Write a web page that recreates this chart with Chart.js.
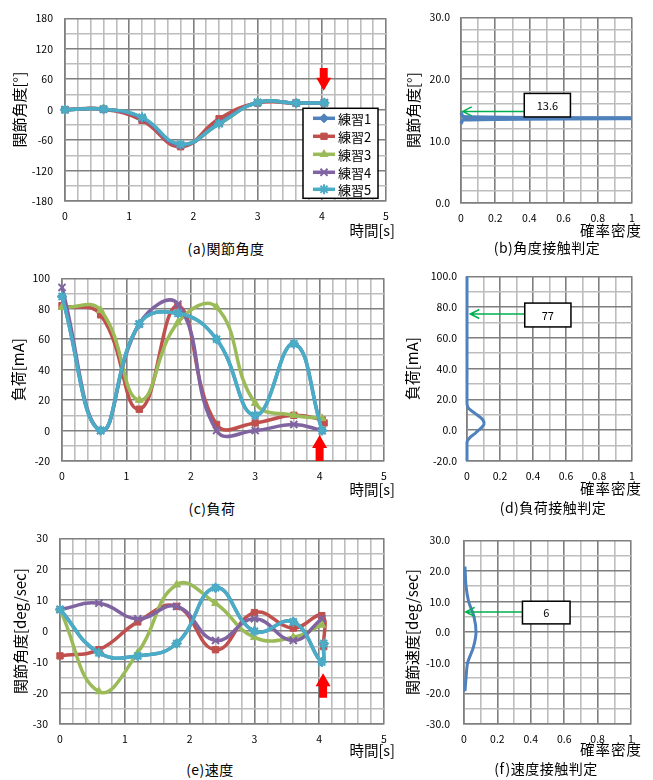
<!DOCTYPE html>
<html>
<head>
<meta charset="utf-8">
<script src="https://cdn.jsdelivr.net/npm/chart.js@4.4.1/dist/chart.umd.min.js"></script>
<style>
  body { margin: 0; background: #fff; width: 653px; height: 780px; position: relative; overflow: hidden;
         font-family: "Noto Sans CJK JP", "Noto Sans", sans-serif; }
  canvas { position: absolute; }
  .t { position: absolute; white-space: nowrap; color: #000; line-height: 1; }
  .c { transform: translate(-50%, -50%); font-size: 14px; letter-spacing: 0.5px; }
  .r { transform: translateY(-50%); font-size: 14.5px; }
</style>
</head>
<body>
<canvas id="chartA"></canvas>
<canvas id="chartB"></canvas>
<canvas id="chartC"></canvas>
<canvas id="chartD"></canvas>
<canvas id="chartE"></canvas>
<canvas id="chartF"></canvas>

<div class="t r" style="right:258px;top:230px">時間[s]</div>
<div class="t r" style="right:11px;top:230px;letter-spacing:1px">確率密度</div>
<div class="t r" style="right:258px;top:489px">時間[s]</div>
<div class="t r" style="right:11px;top:488px;letter-spacing:1px">確率密度</div>
<div class="t r" style="right:258px;top:750px">時間[s]</div>
<div class="t r" style="right:11px;top:749px;letter-spacing:1px">確率密度</div>

<div class="t c" style="left:226px;top:248px">(a)関節角度</div>
<div class="t c" style="left:547px;top:247px">(b)角度接触判定</div>
<div class="t c" style="left:212px;top:508px">(c)負荷</div>
<div class="t c" style="left:553px;top:507px">(d)負荷接触判定</div>
<div class="t c" style="left:210px;top:769px">(e)速度</div>
<div class="t c" style="left:546px;top:768px">(f)速度接触判定</div>

<script>
// sample times [s]; the last one only for the series that drop at the end
const times = [0, 0.6, 1.2, 1.8, 2.4, 3.0, 3.6, 4.04, 4.07];
const seriesNames = ["練習1", "練習2", "練習3", "練習4", "練習5"];
const seriesColors = ["#4F81BD", "#C0504D", "#9BBB59", "#8064A2", "#4BACC6"];
const seriesMarkers = ["rectRot", "rect", "triangle", "crossRot", "star"];

// (a) joint angle [deg]
const angle1 = [0, 1, -17, -70, -25, 14, 13, 13.6, null];
const angle2 = [0, 1, -21, -73, -18, 13, 13, 13.6, null];
const angle3 = [0, 1, -16, -69, -28, 14, 13, 13.6, null];
const angle4 = [0, 1, -17, -70, -27, 14, 13, 13.6, null];
const angle5 = [0, 1, -15, -68, -28, 14, 13, 13.6, null];

// (c) load [mA]
const load1 = [88, 0, 70, 77, 60, 10, 57, 0, null];
const load2 = [82, 76, 14, 82, 4, 5, 10, 7, 5];
const load3 = [81, 79, 20, 71, 81, 18, 10, 8, null];
const load4 = [94, 0, 70, 83, 0, 0, 4, 0, null];
const load5 = [88, 0, 70, 77, 60, 10, 57, 0, null];

// (e) joint velocity [deg/sec]
const speed1 = [7, -7, -8, -4, 14, 0, 3, -10, -4];
const speed2 = [-8, -6, 3, 8, -6, 6, 1, 5, -5];
const speed3 = [7, -19.5, -7, 15, 9, -2, -2, 2, null];
const speed4 = [7, 9, 4, 8, -3, 4, -3, 4, null];
const speed5 = [7, -7, -8, -4, 14, 0, 3, -10, -4];

// density curves (x = probability density, y = value)
const angleDensX = [0, 0.015, 1.2, 0.015, 0];
const angleDensY = [12.8, 13.45, 13.7, 13.95, 14.6];
const loadDensX = [0, 0, 0.008, 0.025, 0.05, 0.07, 0.09, 0.103, 0.1, 0.085, 0.06, 0.035, 0.012, 0.002, 0, 0];
const loadDensY = [-20, -8, -6, -4, -2, 0, 2, 4, 6, 8, 10, 12, 14, 16, 18, 100];
const speedDensX = [0.006, 0.012, 0.022, 0.056, 0.072, 0.06, 0.028, 0.012, 0.007, 0.006];
const speedDensY = [-19.3, -15, -10, -5, 0, 5, 10, 15, 20, 21.4];

// red arrows: x, tail y, tip y
const angleArrow = [4.03, 82, 37];
const loadArrow = [4.0, -20, -3];
const speedArrow = [4.06, -21.5, -13.6];

// callouts: label, box x0, x1, y top, y bottom, arrow y, arrow tip x
const angleCallout = ["13.6", 0.37, 0.64, 17.7, 13.9, 14.8, 0.01];
const loadCallout = ["77", 0.35, 0.63, 82.6, 67.1, 75.5, 0.02];
const speedCallout = ["6", 0.35, 0.635, 10.1, 2.7, 6.6, 0.01];

const FONT = '"Noto Sans CJK JP", "Noto Sans", sans-serif';
const MAJOR = "#7f7f7f";
const MINOR = "#bdbdbd";

function isMajor(v, m) {
  return Math.abs(v / m - Math.round(v / m)) < 1e-6;
}

function points(xs, ys) {
  const out = [];
  xs.forEach((x, i) => { if (ys[i] !== null) out.push({ x: x, y: ys[i] }); });
  return out;
}

function seriesSets(list) {
  return list.map((vals, i) => ({
    label: seriesNames[i],
    data: points(times, vals),
    borderColor: seriesColors[i],
    backgroundColor: seriesColors[i],
    borderWidth: 3.5,
    pointStyle: seriesMarkers[i],
    pointRadius: i === 3 || i === 4 ? 5 : 4.5,
    pointBorderWidth: i === 3 || i === 4 ? 2 : 1,
    tension: 0.45,
    clip: 8,
    order: 5 - i,
  }));
}

function densitySet(xs, ys, width) {
  return [{
    data: xs.map((x, i) => ({ x: x, y: ys[i] })),
    borderColor: "#4F81BD",
    borderWidth: width,
    pointRadius: 0,
    tension: 0.3,
    clip: { left: 3, top: 0, right: 0, bottom: 0 },
  }];
}

const overlay = {
  id: "overlay",
  afterDatasetsDraw(chart, args, o) {
    const ctx = chart.ctx;
    const sx = chart.scales.x, sy = chart.scales.y;
    ctx.save();
    if (o.red) {
      const x = sx.getPixelForValue(o.red[0]);
      const tail = sy.getPixelForValue(o.red[1]);
      const tip = sy.getPixelForValue(o.red[2]);
      const s = tail > tip ? 1 : -1;
      const hw = 7.5, sw = 4, hl = 13;
      ctx.fillStyle = "#FF0000";
      ctx.beginPath();
      ctx.moveTo(x, tip);
      ctx.lineTo(x + hw, tip + s * hl);
      ctx.lineTo(x + sw, tip + s * hl);
      ctx.lineTo(x + sw, tail);
      ctx.lineTo(x - sw, tail);
      ctx.lineTo(x - sw, tip + s * hl);
      ctx.lineTo(x - hw, tip + s * hl);
      ctx.closePath();
      ctx.fill();
    }
    if (o.callout) {
      const c = o.callout;
      const bx0 = sx.getPixelForValue(c[1]), bx1 = sx.getPixelForValue(c[2]);
      const by0 = sy.getPixelForValue(c[3]), by1 = sy.getPixelForValue(c[4]);
      const ay = sy.getPixelForValue(c[5]), ax = sx.getPixelForValue(c[6]);
      ctx.strokeStyle = "#00B050";
      ctx.lineWidth = 1.5;
      ctx.beginPath();
      ctx.moveTo(bx0, ay);
      ctx.lineTo(ax, ay);
      ctx.moveTo(ax + 9, ay - 4.5);
      ctx.lineTo(ax, ay);
      ctx.lineTo(ax + 9, ay + 4.5);
      ctx.stroke();
      ctx.fillStyle = "#fff";
      ctx.fillRect(bx0, by0, bx1 - bx0, by1 - by0);
      ctx.strokeStyle = "#000";
      ctx.lineWidth = 1.5;
      ctx.strokeRect(bx0, by0, bx1 - bx0, by1 - by0);
      ctx.fillStyle = "#000";
      ctx.font = "11px " + FONT;
      ctx.textAlign = "center";
      ctx.textBaseline = "middle";
      ctx.fillText(c[0], (bx0 + bx1) / 2, (by0 + by1) / 2 + 0.5);
    }
    if (o.legend) {
      const ca = chart.chartArea;
      const lx = ca.left + 238, ly = ca.top + 90, lw = 75, lh = 90;
      ctx.fillStyle = "#fff";
      ctx.fillRect(lx, ly, lw, lh);
      ctx.strokeStyle = "#000";
      ctx.lineWidth = 1.5;
      ctx.strokeRect(lx, ly, lw, lh);
      const rows = [10, 28, 46, 64, 81];
      chart.data.datasets.forEach((ds, i) => {
        const y = ly + rows[i];
        ctx.strokeStyle = ds.borderColor;
        ctx.fillStyle = ds.borderColor;
        ctx.lineWidth = 3.5;
        ctx.beginPath();
        ctx.moveTo(lx + 10, y);
        ctx.lineTo(lx + 32, y);
        ctx.stroke();
        ctx.lineWidth = ds.pointBorderWidth;
        Chart.helpers.drawPoint(ctx, { pointStyle: ds.pointStyle, radius: ds.pointRadius, rotation: 0, borderWidth: ds.pointBorderWidth }, lx + 21, y);
        ctx.fillStyle = "#000";
        ctx.font = "13px " + FONT;
        ctx.textAlign = "left";
        ctx.textBaseline = "middle";
        ctx.fillText(ds.label, lx + 35, y + 0.5);
      });
    }
    ctx.restore();
  }
};

function axis(min, max, step, major, fmt, extra) {
  return Object.assign({
    type: "linear",
    min: min,
    max: max,
    afterBuildTicks: (s) => {
      const n = Math.round((max - min) / step);
      s.ticks = [];
      for (let i = 0; i <= n; i++) s.ticks.push({ value: +(min + i * step).toFixed(6) });
    },
    grid: {
      color: (c) => (c.tick && isMajor(c.tick.value, major) ? MAJOR : MINOR),
      lineWidth: 1.6,
      drawTicks: false,
    },
    border: { color: MAJOR, width: 1.6 },
    ticks: {
      autoSkip: false,
      maxRotation: 0,
      color: "#000",
      font: { size: 10.5, family: FONT },
      callback: (v) => (isMajor(v, major) ? fmt(v) : ""),
    },
  }, extra);
}

function makeChart(id, plot, cfg) {
  const cl = plot.right > 400 ? 400 : 0;
  const ct = plot.top < 200 ? 0 : plot.top < 500 ? 260 : 520;
  const w = cl === 0 ? 400 : 253;
  const xh = 26;
  const h = plot.bottom - ct + xh;
  const cv = document.getElementById(id);
  cv.width = w;
  cv.height = h;
  cv.style.left = cl + "px";
  cv.style.top = ct + "px";

  const x = axis(cfg.x[0], cfg.x[1], cfg.x[2], cfg.x[3], cfg.xfmt, {
    afterFit: (s) => { s.height = xh; },
  });
  x.ticks.padding = 9;
  const y = axis(cfg.y[0], cfg.y[1], cfg.y[2], cfg.y[3], cfg.yfmt, {
    afterFit: (s) => { s.width = plot.left - cl; },
    title: {
      display: true,
      text: cfg.ytitle,
      color: "#000",
      font: { size: 15, family: FONT },
      padding: { top: cfg.tpad, bottom: 0 },
    },
  });
  y.ticks.padding = cfg.ypad;

  return new Chart(cv, {
    type: "line",
    data: { datasets: cfg.datasets },
    options: {
      responsive: false,
      animation: false,
      layout: {
        autoPadding: false,
        padding: { left: 0, top: plot.top - ct, right: cl + w - plot.right, bottom: 0 },
      },
      scales: { x: x, y: y },
      plugins: {
        legend: { display: false },
        tooltip: { enabled: false },
        overlay: cfg.overlay,
      },
    },
    plugins: [overlay],
  });
}

const intFmt = (v) => String(Math.round(v));
const densFmt = (v) => (isMajor(v, 1) ? String(Math.round(v)) : v.toFixed(1));
const oneDec = (v) => v.toFixed(1);

window.addEventListener("load", () => {
  makeChart("chartA", { left: 65, top: 17, right: 386, bottom: 201 }, {
    x: [0, 5, 0.2, 1], y: [-180, 180, 30, 60], xfmt: intFmt, yfmt: intFmt,
    ytitle: "関節角度[°]", tpad: 10, ypad: 12,
    datasets: seriesSets([angle1, angle2, angle3, angle4, angle5]),
    overlay: { red: angleArrow, legend: true },
  });
  makeChart("chartB", { left: 461, top: 17, right: 632, bottom: 203 }, {
    x: [0, 1, 0.1, 0.2], y: [0, 30, 2, 10], xfmt: densFmt, yfmt: oneDec,
    ytitle: "関節角度[°]", tpad: 4, ypad: 11,
    datasets: densitySet(angleDensX, angleDensY, 3.5),
    overlay: { callout: angleCallout },
  });
  makeChart("chartC", { left: 62, top: 275, right: 384, bottom: 461 }, {
    x: [0, 5, 0.2, 1], y: [-20, 100, 10, 20], xfmt: intFmt, yfmt: intFmt,
    ytitle: "負荷[mA]", tpad: 9, ypad: 12,
    datasets: seriesSets([load1, load2, load3, load4, load5]),
    overlay: { red: loadArrow },
  });
  makeChart("chartD", { left: 467, top: 275, right: 632, bottom: 461 }, {
    x: [0, 1, 0.1, 0.2], y: [-20, 100, 10, 20], xfmt: densFmt, yfmt: oneDec,
    ytitle: "負荷[mA]", tpad: 3, ypad: 10,
    datasets: densitySet(loadDensX, loadDensY, 3),
    overlay: { callout: loadCallout },
  });
  makeChart("chartE", { left: 60, top: 537, right: 384, bottom: 724 }, {
    x: [0, 5, 0.2, 1], y: [-30, 30, 5, 10], xfmt: intFmt, yfmt: intFmt,
    ytitle: "関節角度[deg/sec]", tpad: 11, ypad: 12,
    datasets: seriesSets([speed1, speed2, speed3, speed4, speed5]),
    overlay: { red: speedArrow },
  });
  makeChart("chartF", { left: 464, top: 537, right: 631, bottom: 724 }, {
    x: [0, 1, 0.1, 0.2], y: [-30, 30, 5, 10], xfmt: densFmt, yfmt: oneDec,
    ytitle: "関節速度[deg/sec]", tpad: 3, ypad: 14,
    datasets: densitySet(speedDensX, speedDensY, 3),
    overlay: { callout: speedCallout },
  });
});
</script>
</body>
</html>
